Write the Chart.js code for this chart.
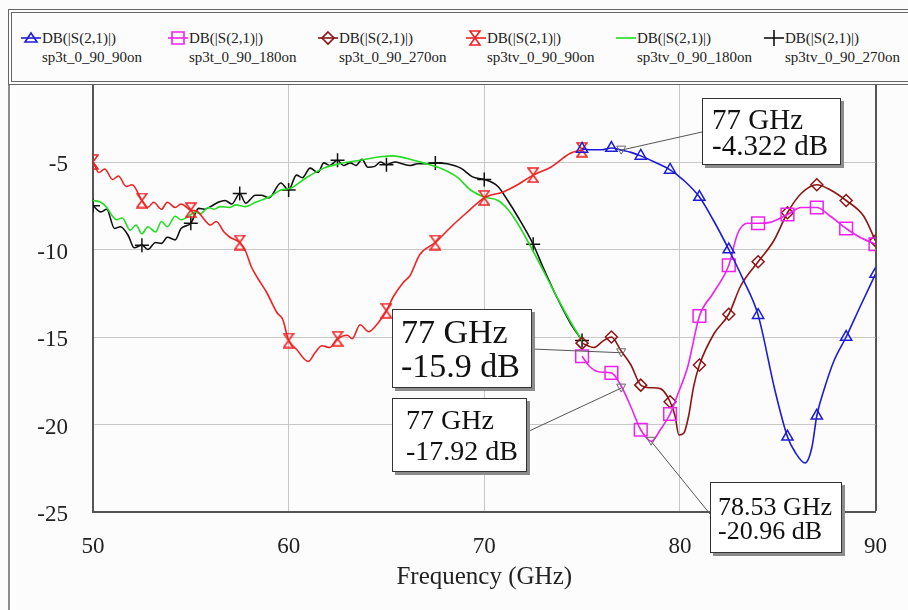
<!DOCTYPE html>
<html>
<head>
<meta charset="utf-8">
<title>DB(|S(2,1)|) sweep</title>
<script src="https://cdn.jsdelivr.net/npm/chart.js@4.4.1/dist/chart.umd.min.js"></script>
<style>
    body { margin: 0; background: #fcfcfc; }
    #wrap {
        position: relative; width: 908px; height: 610px; overflow: hidden; background: #fcfcfc;
        font-family: "Liberation Serif", "Times New Roman", serif; color: #222;
    }
    #plot { position: absolute; left: 0; top: 0; }
    #frameLeft { position: absolute; left: 8px; top: 80px; width: 2px; height: 530px; background: #8c8c8c; }
    #legendBox {
        position: absolute; left: 8px; top: 9px; width: 940px; height: 68px;
        border: 4px double #666; background: #fcfcfc;
    }
    .leg {
        position: absolute; top: 29px; font-family: "Liberation Serif", serif; font-size: 15px;
        line-height: 19px; white-space: nowrap; color: #222;
    }
    .leg canvas { position: absolute; top: 1px; }
    .readout {
        position: absolute; box-sizing: border-box; background: #fff; border: 1.5px solid #333;
        box-shadow: 3px 3px 0 #8c8c8c; white-space: nowrap; color: #111;
        font-family: "Liberation Serif", serif;
    }
</style>
</head>
<body>
<div id="wrap">
    <canvas id="plot" width="908" height="610"></canvas>
    <div id="frameLeft"></div>
    <div id="legendBox"></div>
    <div id="legend"></div>
    <div id="readouts"></div>
</div>
<script>
// Axis ranges
const freqRange = [50, 90];
const dbRange = [-25, 0];

// Trace names (legend)
const measureLabel = 'DB(|S(2,1)|)';
const traceNames = ['sp3t_0_90_90on', 'sp3t_0_90_180on', 'sp3t_0_90_270on',
                    'sp3tv_0_90_90on', 'sp3tv_0_90_180on', 'sp3tv_0_90_270on'];

// Where the symbols sit on each family of traces
const sp3tMarkGHz = [75, 76.5, 78, 79.5, 81, 82.5, 84, 85.5, 87, 88.5, 90];
const sp3tvMarkGHz = [50, 52.5, 55, 57.5, 60, 62.5, 65, 67.5, 70, 72.5, 75];

// sp3t_0_90_90on
const sp3t90GHz = [75, 75.5, 76, 76.5, 77, 77.5, 78, 78.7, 79.5, 80.2, 81, 81.7, 82.5, 83.25, 84,
                   84.85, 85.5, 85.9, 86.4, 86.75, 87, 87.4, 87.9, 88.5, 89.2, 90];
const sp3t90DB = [-4.25, -4.3, -4.3, -4.2, -4.322, -4.45, -4.65, -5.0, -5.45, -6.05, -7.0, -8.3, -10.0, -11.75, -13.75,
                  -18.0, -20.7, -21.6, -22.2, -21.3, -19.5, -17.9, -16.3, -15.0, -13.3, -11.4];

// sp3t_0_90_180on
const sp3t180GHz = [75, 75.4, 75.9, 76.5, 77, 77.5, 78, 78.55, 79, 79.5, 79.85, 80.4, 81, 81.7, 82.5,
                    82.95, 83.45, 84, 84.6, 85.5, 86.2, 87, 87.7, 88.5, 89.2, 90];
const sp3t180DB = [-16.1, -16.7, -17.0, -17.05, -17.8, -19.0, -20.3, -20.96, -20.3, -19.4, -18.4, -16.7, -13.8, -12.5, -10.9,
                   -9.1, -8.5, -8.5, -8.45, -8.0, -7.6, -7.6, -8.1, -8.8, -9.3, -9.7];

// sp3t_0_90_270on
const sp3t270GHz = [75, 75.6, 76.05, 76.5, 77, 77.5, 78, 78.5, 79, 79.5, 79.75, 79.95, 80.2, 80.45, 80.7, 81,
                    81.75, 82.5, 83.1, 84, 84.8, 85.5, 86.2, 87, 87.7, 88.5, 89.4, 90];
const sp3t270DB = [-15.35, -15.6, -15.25, -15.0, -15.8, -16.6, -17.75, -17.9, -17.95, -18.7, -19.5, -20.6, -20.5, -19.5, -17.85, -16.6,
                   -14.8, -13.7, -12.1, -10.7, -9.5, -7.9, -6.8, -6.3, -6.6, -7.2, -8.1, -9.5];

// sp3tv_0_90_90on
const sp3tv90GHz = [50, 50.3, 50.6, 51, 51.3, 51.7, 52, 52.5, 52.8, 53.1, 53.5, 53.8, 54.2, 54.5,
                    55, 55.3, 55.7, 56, 56.3, 56.7, 57, 57.5, 57.8, 58.1, 58.4, 58.9, 59.4, 59.7,
                    60, 60.4, 61, 61.35, 61.7, 62.1, 62.5, 63, 63.25, 63.65, 64.1, 64.5,
                    65, 65.35, 65.85, 66.2, 66.7, 67.5, 68.4, 69.1, 70, 71, 71.7, 72.5, 73.4, 74.4, 75];
const sp3tv90DB = [-5.0, -5.6, -5.4, -6.0, -5.8, -6.4, -6.3, -7.2, -7.6, -7.3, -7.7, -7.3, -7.6, -7.4,
                   -7.75, -7.8, -8.3, -8.6, -8.4, -9.0, -9.3, -9.6, -10.1, -11.0, -11.6, -12.5, -13.6, -14.0,
                   -15.2, -15.7, -16.4, -15.9, -15.5, -15.6, -15.1, -14.9, -15.1, -14.3, -14.7, -14.3,
                   -13.5, -12.7, -11.9, -11.5, -10.3, -9.6, -8.6, -7.9, -7.05, -6.7, -6.3, -5.75, -5.3, -4.5, -4.3];

// sp3tv_0_90_180on
const sp3tv180GHz = [50, 50.4, 50.7, 51, 51.2, 51.5, 51.9, 52.2, 52.5, 52.8, 53.2, 53.5, 53.8, 54.2, 54.5,
                     55, 55.2, 55.5, 55.9, 56.2, 56.5, 57, 57.3, 57.8, 58.3, 59, 59.6,
                     60.1, 60.9, 61.8, 62.6, 63.65, 64.7, 65.35, 66.05, 66.9, 67.75, 68.6, 69.3,
                     70, 70.7, 71.2, 71.7, 72.5, 73.2, 73.9, 74.55, 75];
const sp3tv180DB = [-7.2, -7.3, -7.6, -8.1, -8.3, -8.2, -8.9, -8.6, -9.1, -8.7, -9.0, -8.4, -8.7, -8.1, -8.3,
                    -8.0, -7.85, -7.95, -7.6, -7.7, -7.55, -7.6, -7.45, -7.55, -7.3, -7.0, -6.6,
                    -6.5, -5.9, -5.35, -5.1, -4.9, -4.7, -4.65, -4.8, -5.05, -5.35, -5.85, -6.6,
                    -7.0, -7.2, -7.7, -8.5, -10.1, -11.6, -13.1, -14.4, -15.2];

// sp3tv_0_90_270on
const sp3tv270GHz = [50, 50.4, 50.7, 51.1, 51.4, 51.8, 52.1, 52.5, 52.8, 53.2, 53.5, 53.8, 54.2, 54.5,
                     55, 55.4, 55.7, 56, 56.4, 56.75, 57.1, 57.5, 57.8, 58.3, 58.6, 59, 59.6,
                     60, 60.4, 60.7, 61.1, 61.5, 61.8, 62.1, 62.5, 62.8, 63.15, 63.45, 63.75, 64.05, 64.4, 64.7,
                     65, 65.45, 65.8, 66.2, 66.6, 67.1, 67.5, 68.1, 68.8, 69.4, 70, 70.7, 71.2, 71.7,
                     72.5, 73, 73.7, 74.4, 75];
const sp3tv270DB = [-7.5, -7.85, -7.7, -8.8, -8.7, -9.2, -9.9, -9.75, -10.0, -9.6, -9.65, -9.3, -9.45, -8.8,
                    -8.5, -7.65, -7.7, -7.55, -7.3, -7.2, -7.4, -6.8, -7.35, -6.9, -6.9, -7.05, -6.2,
                    -6.6, -5.75, -5.9, -5.35, -5.6, -5.05, -5.2, -4.9, -5.2, -5.05, -5.2, -4.85, -5.3, -5.25, -5.0,
                    -5.15, -5.0, -5.1, -5.2, -5.1, -5.1, -5.05, -5.1, -5.35, -5.85, -6.0, -6.4, -7.2, -8.1,
                    -9.7, -11.0, -12.7, -14.2, -15.2];

// Marker readouts
const readoutGHz = [77, 77, 77, 78.53];
const readoutDB = [-4.322, -15.9, -17.92, -20.96];

// Readout box layout: box rect, font, and where the leader leaves the box
const readoutLayout = [
    { left: 702, top: 98, width: 139, height: 67, font: 29, lh: 26, padTop: 7, padLeft: 9, ax: 702, ay: 132 },
    { left: 392, top: 309, width: 140, height: 79, font: 34, lh: 34, padTop: 5, padLeft: 8, ax: 532, ay: 349 },
    { left: 392, top: 398, width: 135, height: 74, font: 28, lh: 31, padTop: 5, padLeft: 13, ax: 527, ay: 432 },
    { left: 710, top: 482, width: 132, height: 71, font: 26, lh: 24, padTop: 12, padLeft: 7, ax: 710, ay: 514 }
];

// Legend text start positions
const legendX = [42, 189, 339, 487, 637, 785];

function hourglass(color) {
    const c = document.createElement('canvas');
    c.width = 12;
    c.height = 16;
    const g = c.getContext('2d');
    g.strokeStyle = color;
    g.lineWidth = 1.5;
    g.beginPath();
    g.moveTo(1, 1); g.lineTo(11, 1); g.lineTo(1, 15); g.lineTo(11, 15); g.closePath();
    g.stroke();
    return c;
}

const series = [
    { ghz: sp3t90GHz, db: sp3t90DB, color: '#1c1cd8', style: 'triangle', radius: 6.5, marks: sp3tMarkGHz, glyph: 'triangle' },
    { ghz: sp3t180GHz, db: sp3t180DB, color: '#ee22ee', style: 'rect', radius: 9, marks: sp3tMarkGHz, glyph: 'rect' },
    { ghz: sp3t270GHz, db: sp3t270DB, color: '#8e1414', style: 'rectRot', radius: 6, marks: sp3tMarkGHz, glyph: 'diamond' },
    { ghz: sp3tv90GHz, db: sp3tv90DB, color: '#ee2222', style: hourglass('#ee2222'), radius: 6, marks: sp3tvMarkGHz, glyph: 'hourglass' },
    { ghz: sp3tv180GHz, db: sp3tv180DB, color: '#22dd22', style: 'circle', radius: 0, marks: [], glyph: 'line' },
    { ghz: sp3tv270GHz, db: sp3tv270DB, color: '#111111', style: 'cross', radius: 7, marks: sp3tvMarkGHz, glyph: 'plus' }
];

function drawGlyph(cv, kind, color) {
    const g = cv.getContext('2d');
    g.strokeStyle = color;
    g.lineWidth = 1.6;
    g.beginPath();
    g.moveTo(0, 8); g.lineTo(20, 8);
    g.stroke();
    g.beginPath();
    if (kind === 'triangle') {
        g.moveTo(4, 12); g.lineTo(16, 12); g.lineTo(10, 3); g.closePath();
    } else if (kind === 'rect') {
        g.rect(4, 2, 12, 12);
    } else if (kind === 'diamond') {
        g.moveTo(10, 2); g.lineTo(16, 8); g.lineTo(10, 14); g.lineTo(4, 8); g.closePath();
    } else if (kind === 'hourglass') {
        g.moveTo(4, 1); g.lineTo(14, 1); g.lineTo(4, 15); g.lineTo(14, 15); g.closePath();
    } else if (kind === 'plus') {
        g.moveTo(10, 0); g.lineTo(10, 16);
    }
    g.stroke();
}

function renderLegend() {
    const box = document.getElementById('legend');
    box.innerHTML = traceNames.map((name, i) => `
        <div class="leg" style="left:${legendX[i]}px">
            <canvas width="20" height="16" style="left:-21px"></canvas>
            <div>${measureLabel}</div>
            <div>${name}</div>
        </div>`).join('');
    box.querySelectorAll('canvas').forEach((cv, i) => drawGlyph(cv, series[i].glyph, series[i].color));
}

function renderReadouts() {
    const box = document.getElementById('readouts');
    box.innerHTML = readoutGHz.map((f, i) => {
        const l = readoutLayout[i];
        return `
        <div class="readout" style="left:${l.left}px;top:${l.top}px;width:${l.width}px;height:${l.height}px;
             font-size:${l.font}px;line-height:${l.lh}px;padding:${l.padTop}px 0 0 ${l.padLeft}px">
            <div>${f} GHz</div>
            <div>${readoutDB[i]} dB</div>
        </div>`;
    }).join('');
}

// Leader lines and the small marker triangles
const readoutPlugin = {
    id: 'readouts',
    afterDatasetsDraw(chart) {
        const { ctx } = chart;
        const x = chart.scales.x, y = chart.scales.y;
        ctx.save();
        readoutGHz.forEach((f, i) => {
            const px = x.getPixelForValue(f);
            const py = y.getPixelForValue(readoutDB[i]);
            const l = readoutLayout[i];
            ctx.strokeStyle = '#555';
            ctx.lineWidth = 1;
            ctx.beginPath();
            ctx.moveTo(l.ax, l.ay);
            ctx.lineTo(px, py);
            ctx.stroke();
            ctx.strokeStyle = '#6a6a6a';
            ctx.beginPath();
            ctx.moveTo(px - 4.5, py - 4);
            ctx.lineTo(px + 4.5, py - 4);
            ctx.lineTo(px, py + 4);
            ctx.closePath();
            ctx.stroke();
        });
        ctx.restore();
    }
};

function initChart() {
    const tickFont = { family: '"Liberation Serif", serif', size: 23 };
    new Chart(document.getElementById('plot'), {
        type: 'line',
        data: {
            datasets: series.map((s, k) => ({
                label: traceNames[k],
                data: s.ghz.map((f, i) => ({ x: f, y: s.db[i] })),
                borderColor: s.color,
                borderWidth: 1.6,
                cubicInterpolationMode: 'monotone',
                pointStyle: s.style,
                pointRadius: ctx => (ctx.raw && s.marks.includes(ctx.raw.x) ? s.radius : 0),
                pointBorderColor: s.color,
                pointBackgroundColor: 'rgba(0,0,0,0)',
                pointBorderWidth: 1.5
            }))
        },
        options: {
            responsive: false,
            animation: false,
            events: [],
            layout: { padding: { left: 0, right: 32, top: 74.5, bottom: 0 } },
            plugins: { legend: { display: false }, tooltip: { enabled: false } },
            scales: {
                x: {
                    type: 'linear',
                    min: freqRange[0],
                    max: freqRange[1],
                    afterFit: axis => { axis.height = 98; },
                    border: { display: true, color: '#555', width: 2 },
                    grid: {
                        drawTicks: false,
                        color: c => (c.tick && c.tick.value === freqRange[1] ? '#555' : '#c8c8c8'),
                        lineWidth: c => (c.tick && c.tick.value === freqRange[1] ? 2 : 1)
                    },
                    ticks: { stepSize: 10, padding: 21, color: '#222', font: tickFont },
                    title: {
                        display: true,
                        text: 'Frequency (GHz)',
                        color: '#222',
                        font: { family: '"Liberation Serif", serif', size: 25 },
                        padding: { top: 0, bottom: 18 }
                    }
                },
                y: {
                    type: 'linear',
                    min: dbRange[0],
                    max: dbRange[1],
                    afterFit: axis => { axis.width = 93; },
                    border: { display: true, color: '#555', width: 2 },
                    grid: { drawTicks: false, color: '#c8c8c8', lineWidth: 1 },
                    ticks: {
                        stepSize: 5,
                        padding: 25,
                        labelOffset: 3,
                        color: '#222',
                        font: tickFont,
                        callback: v => (v === dbRange[1] ? '' : v)
                    }
                }
            }
        },
        plugins: [readoutPlugin]
    });
}

renderLegend();
renderReadouts();
initChart();
</script>
</body>
</html>
